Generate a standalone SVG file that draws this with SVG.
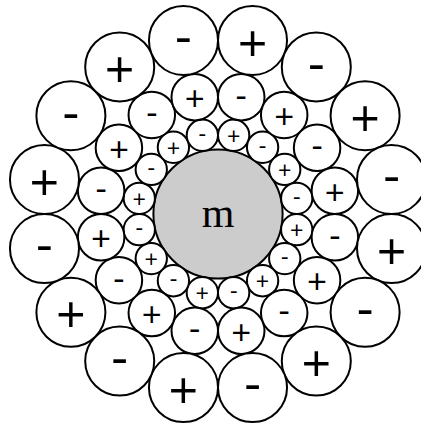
<svg xmlns="http://www.w3.org/2000/svg" width="421" height="425" viewBox="0 0 421 425">
<style>
circle{fill:#fff;stroke:#000;stroke-width:2}
#m circle{fill:#ccc}
text{font-family:"Open Sans","Noto Sans",sans-serif;text-anchor:middle;fill:#000}
.a text{font-size:23.5px}
.b text{font-size:35px}
.c text{font-size:52px}
#m text{font-family:"Liberation Serif",serif;font-size:42px}
</style>
<rect width="421" height="425" fill="#fff"/>
<g id="m"><circle cx="218" cy="214" r="64.6"/><text x="218" y="227">m</text></g>
<g class="a">
<g id="a0"><circle cx="296.72" cy="229.66" r="15.66"/><text x="296.72" y="239.21">+</text></g>
<g id="a1"><circle cx="284.73" cy="258.59" r="15.66"/><text x="284.73" y="264.9">-</text></g>
<g id="a2"><circle cx="262.59" cy="280.73" r="15.66"/><text x="262.59" y="290.28">+</text></g>
<g id="a3"><circle cx="233.66" cy="292.72" r="15.66"/><text x="233.66" y="299.03">-</text></g>
<g id="a4"><circle cx="202.34" cy="292.72" r="15.66"/><text x="202.34" y="302.27">+</text></g>
<g id="a5"><circle cx="173.41" cy="280.73" r="15.66"/><text x="173.41" y="287.04">-</text></g>
<g id="a6"><circle cx="151.27" cy="258.59" r="15.66"/><text x="151.27" y="268.14">+</text></g>
<g id="a7"><circle cx="139.28" cy="229.66" r="15.66"/><text x="139.28" y="235.97">-</text></g>
<g id="a8"><circle cx="139.28" cy="198.34" r="15.66"/><text x="139.28" y="207.89">+</text></g>
<g id="a9"><circle cx="151.27" cy="169.41" r="15.66"/><text x="151.27" y="175.72">-</text></g>
<g id="a10"><circle cx="173.41" cy="147.27" r="15.66"/><text x="173.41" y="156.82">+</text></g>
<g id="a11"><circle cx="202.34" cy="135.28" r="15.66"/><text x="202.34" y="141.59">-</text></g>
<g id="a12"><circle cx="233.66" cy="135.28" r="15.66"/><text x="233.66" y="144.83">+</text></g>
<g id="a13"><circle cx="262.59" cy="147.27" r="15.66"/><text x="262.59" y="153.58">-</text></g>
<g id="a14"><circle cx="284.73" cy="169.41" r="15.66"/><text x="284.73" y="178.96">+</text></g>
<g id="a15"><circle cx="296.72" cy="198.34" r="15.66"/><text x="296.72" y="204.65">-</text></g>
</g>
<g class="b">
<g id="b0"><circle cx="334.87" cy="237.25" r="23.25"/><text x="334.87" y="246.62">-</text></g>
<g id="b1"><circle cx="317.08" cy="280.2" r="23.25"/><text x="317.08" y="294.38">+</text></g>
<g id="b2"><circle cx="284.2" cy="313.08" r="23.25"/><text x="284.2" y="322.45">-</text></g>
<g id="b3"><circle cx="241.25" cy="330.87" r="23.25"/><text x="241.25" y="345.05">+</text></g>
<g id="b4"><circle cx="194.75" cy="330.87" r="23.25"/><text x="194.75" y="340.24">-</text></g>
<g id="b5"><circle cx="151.8" cy="313.08" r="23.25"/><text x="151.8" y="327.26">+</text></g>
<g id="b6"><circle cx="118.92" cy="280.2" r="23.25"/><text x="118.92" y="289.57">-</text></g>
<g id="b7"><circle cx="101.13" cy="237.25" r="23.25"/><text x="101.13" y="251.43">+</text></g>
<g id="b8"><circle cx="101.13" cy="190.75" r="23.25"/><text x="101.13" y="200.12">-</text></g>
<g id="b9"><circle cx="118.92" cy="147.8" r="23.25"/><text x="118.92" y="161.98">+</text></g>
<g id="b10"><circle cx="151.8" cy="114.92" r="23.25"/><text x="151.8" y="124.29">-</text></g>
<g id="b11"><circle cx="194.75" cy="97.13" r="23.25"/><text x="194.75" y="111.31">+</text></g>
<g id="b12"><circle cx="241.25" cy="97.13" r="23.25"/><text x="241.25" y="106.5">-</text></g>
<g id="b13"><circle cx="284.2" cy="114.92" r="23.25"/><text x="284.2" y="129.1">+</text></g>
<g id="b14"><circle cx="317.08" cy="147.8" r="23.25"/><text x="317.08" y="157.17">-</text></g>
<g id="b15"><circle cx="334.87" cy="190.75" r="23.25"/><text x="334.87" y="204.93">+</text></g>
</g>
<g class="c">
<g id="c0"><circle cx="391.52" cy="248.52" r="34.52"/><text x="391.52" y="269.58">+</text></g>
<g id="c1"><circle cx="365.1" cy="312.29" r="34.52"/><text x="365.1" y="326.2">-</text></g>
<g id="c2"><circle cx="316.29" cy="361.1" r="34.52"/><text x="316.29" y="382.16">+</text></g>
<g id="c3"><circle cx="252.52" cy="387.52" r="34.52"/><text x="252.52" y="401.43">-</text></g>
<g id="c4"><circle cx="183.48" cy="387.52" r="34.52"/><text x="183.48" y="408.58">+</text></g>
<g id="c5"><circle cx="119.71" cy="361.1" r="34.52"/><text x="119.71" y="375.01">-</text></g>
<g id="c6"><circle cx="70.9" cy="312.29" r="34.52"/><text x="70.9" y="333.35">+</text></g>
<g id="c7"><circle cx="44.48" cy="248.52" r="34.52"/><text x="44.48" y="262.43">-</text></g>
<g id="c8"><circle cx="44.48" cy="179.48" r="34.52"/><text x="44.48" y="200.54">+</text></g>
<g id="c9"><circle cx="70.9" cy="115.71" r="34.52"/><text x="70.9" y="129.62">-</text></g>
<g id="c10"><circle cx="119.71" cy="66.9" r="34.52"/><text x="119.71" y="87.96">+</text></g>
<g id="c11"><circle cx="183.48" cy="40.48" r="34.52"/><text x="183.48" y="54.39">-</text></g>
<g id="c12"><circle cx="252.52" cy="40.48" r="34.52"/><text x="252.52" y="61.54">+</text></g>
<g id="c13"><circle cx="316.29" cy="66.9" r="34.52"/><text x="316.29" y="80.81">-</text></g>
<g id="c14"><circle cx="365.1" cy="115.71" r="34.52"/><text x="365.1" y="136.77">+</text></g>
<g id="c15"><circle cx="391.52" cy="179.48" r="34.52"/><text x="391.52" y="193.39">-</text></g>
</g>
</svg>
